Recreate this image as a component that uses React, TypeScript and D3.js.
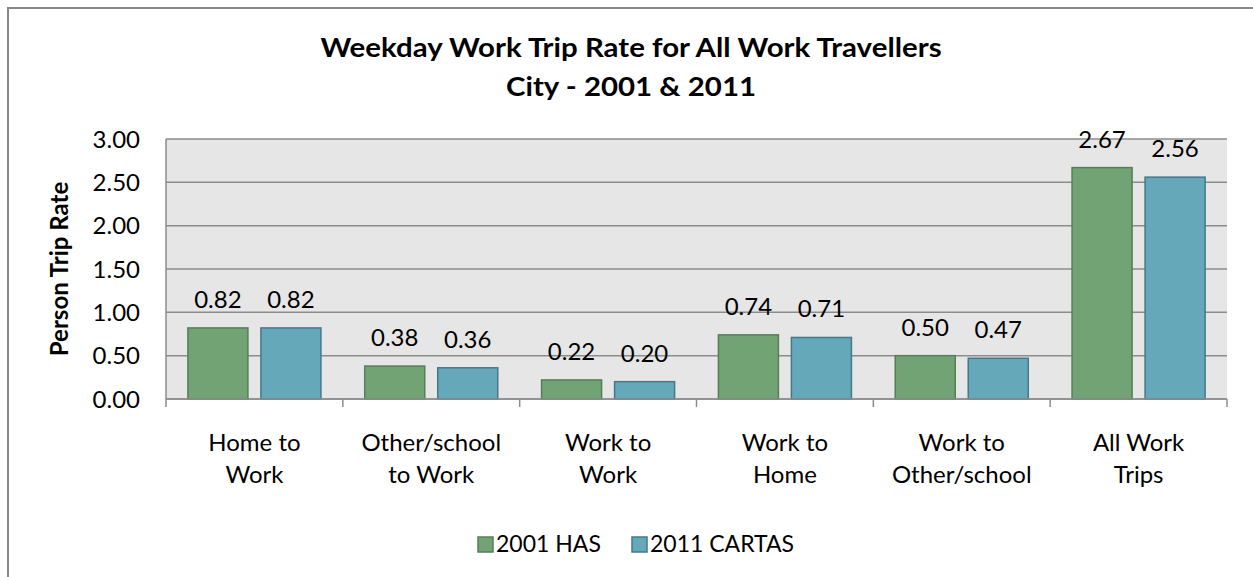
import React from "react";
import * as d3 from "d3";

const categories: string[][] = [
  ["Home to", "Work"],
  ["Other/school", "to Work"],
  ["Work to", "Work"],
  ["Work to", "Home"],
  ["Work to", "Other/school"],
  ["All Work", "Trips"],
];
const seriesNames = ["2001 HAS", "2011 CARTAS"];
const has2001 = [0.82, 0.38, 0.22, 0.74, 0.5, 2.67];
const cartas2011 = [0.82, 0.36, 0.2, 0.71, 0.47, 2.56];
const yTicks = [0, 0.5, 1, 1.5, 2, 2.5, 3];
const titleLines = ["Weekday Work Trip Rate for All Work Travellers", "City - 2001 & 2011"];

const FONT = "Lato, 'Open Sans', sans-serif";
const fills = ["#71A374", "#65A8BA"];
const strokes = ["#557F58", "#44788A"];

export default function App() {
  const W = 1253, H = 577;
  const left = 166, right = 1227, top = 139, bottom = 399;
  const idx = categories.map((_, i) => String(i));
  const x = d3.scaleBand<string>().domain(idx).range([left, right]).padding(0);
  const xs = d3
    .scaleBand<string>()
    .domain(seriesNames)
    .range([0, x.bandwidth()])
    .paddingInner(0.178)
    .paddingOuter(0.3);
  const y = d3.scaleLinear().domain([0, 3]).range([bottom, top]);
  const data = [has2001, cartas2011];
  const fmt = d3.format(".2f");

  return (
    <svg
      width={W}
      height={H}
      style={{ position: "absolute", left: 0, top: 0, background: "#fff" }}
      fontFamily={FONT}
    >
      <rect x={8} y={8} width={W + 20} height={H + 20} fill="#fff" stroke="#888" strokeWidth={2} />
      {titleLines.map((t, i) => (
        <text
          key={t}
          transform={`translate(631,${57 + i * 39}) scale(1.09,1)`}
          textAnchor="middle"
          fontWeight="bold"
          fontSize={27}
          fill="#000"
        >
          {t}
        </text>
      ))}
      <rect x={left} y={top} width={right - left} height={bottom - top} fill="#E6E6E6" />
      {yTicks.map((t) => (
        <g key={t}>
          <line x1={left} x2={right} y1={y(t)} y2={y(t)} stroke="#8C8C8C" strokeWidth={1.5} />
          <text x={140} y={y(t)} dy="0.36em" textAnchor="end" fontSize={24} fill="#000">
            {fmt(t)}
          </text>
        </g>
      ))}
      <line x1={left} x2={left} y1={top} y2={bottom} stroke="#8C8C8C" strokeWidth={1.5} />
      <text
        transform={`translate(59,${(top + bottom) / 2}) rotate(-90)`}
        textAnchor="middle"
        dy="0.36em"
        fontWeight="bold"
        fontSize={24}
        fill="#000"
      >
        Person Trip Rate
      </text>
      {data.map((vals, si) =>
        vals.map((v, ci) => {
          const bx = (x(String(ci)) as number) + (xs(seriesNames[si]) as number);
          return (
            <g key={`${si}-${ci}`}>
              <rect
                x={bx}
                y={y(v)}
                width={xs.bandwidth()}
                height={bottom - y(v)}
                fill={fills[si]}
                stroke={strokes[si]}
                strokeWidth={1.5}
              />
              <text x={bx + xs.bandwidth() / 2} y={y(v) - 20} textAnchor="middle" fontSize={24} fill="#000">
                {fmt(v)}
              </text>
            </g>
          );
        })
      )}
      <line x1={left} x2={right} y1={bottom} y2={bottom} stroke="#8C8C8C" strokeWidth={1.5} />
      {[...idx.map((d) => x(d) as number), right].map((px, i) => (
        <line key={i} x1={px} x2={px} y1={bottom} y2={bottom + 8} stroke="#8C8C8C" strokeWidth={1.5} />
      ))}
      {categories.map((lines, ci) => (
        <text
          key={ci}
          x={(x(String(ci)) as number) + x.bandwidth() / 2}
          textAnchor="middle"
          fontSize={24}
          fill="#000"
        >
          {lines.map((l, li) => (
            <tspan key={li} x={(x(String(ci)) as number) + x.bandwidth() / 2} y={451 + li * 32}>
              {l}
            </tspan>
          ))}
        </text>
      ))}
      {seriesNames.map((s, si) => {
        const lx = si === 0 ? 478 : 632;
        return (
          <g key={s}>
            <rect x={lx} y={537} width={15} height={15} fill={fills[si]} stroke={strokes[si]} strokeWidth={1.5} />
            <text x={lx + 18} y={552} fontSize={23} fill="#000">
              {s}
            </text>
          </g>
        );
      })}
    </svg>
  );
}
